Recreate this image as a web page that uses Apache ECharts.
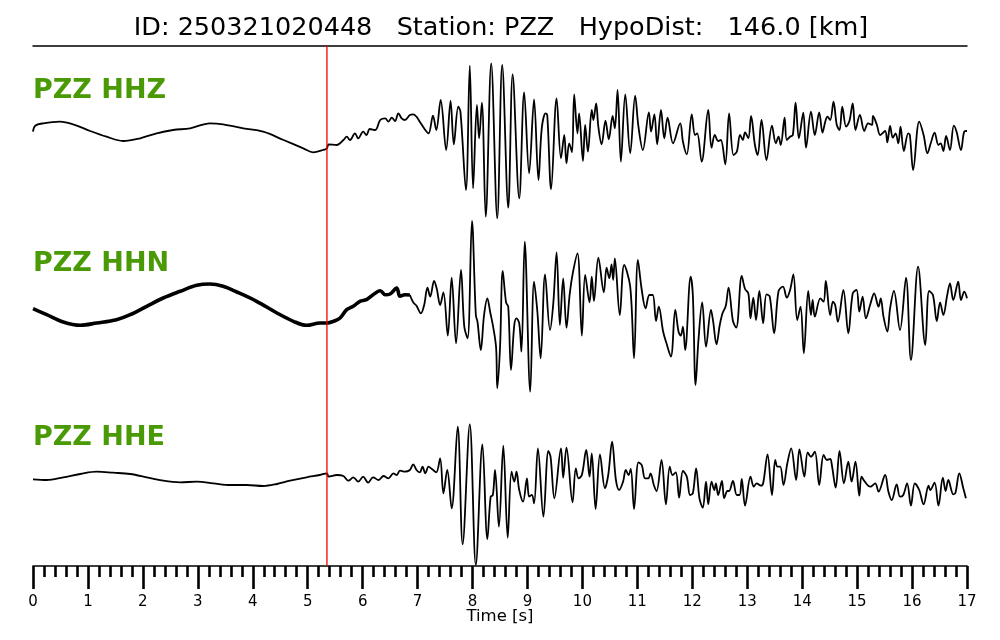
<!DOCTYPE html>
<html>
<head>
<meta charset="utf-8">
<script src="https://cdn.jsdelivr.net/npm/echarts@6/dist/echarts.min.js"></script>
<style>
html,body{margin:0;padding:0;background:#fff;}
#chart{width:1000px;height:640px;}
</style>
</head>
<body>
<div id="chart"></div>
<script>
// ---- data (time [s], amplitude [arbitrary units]) ----
const titleText = 'ID: 250321020448   Station: PZZ   HypoDist:   146.0 [km]';
const traceNames = ['PZZ HHZ', 'PZZ HHN', 'PZZ HHE'];
const pickTime = 5.35;
const timeTicks = [0,1,2,3,4,5,6,7,8,9,10,11,12,13,14,15,16,17];

const hhz = [
[0.00,-3.7],[0.04,2.3],[0.19,4.7],[0.49,6.3],[0.73,3.7],[1.04,-3.0],[1.34,-8.7],[1.64,-13.0],[1.95,-10.3],[2.25,-5.3],
[2.55,-2.0],[2.86,-0.3],[3.22,4.7],[3.46,3.7],[3.83,-0.3],[4.19,-3.7],[4.56,-12.0],[4.92,-20.3],[5.10,-24.3],[5.28,-22.0],
[5.35,-20.3],[5.38,-16.3],[5.53,-17.0],[5.65,-12.0],[5.71,-8.7],[5.77,-12.0],[5.86,-5.3],[5.92,-10.3],[6.01,-3.7],[6.07,-7.0],
[6.13,-1.0],[6.23,-2.0],[6.32,8.0],[6.41,9.7],[6.47,6.3],[6.53,10.3],[6.59,7.0],[6.65,14.7],[6.71,9.7],[6.77,8.0],
[6.86,13.0],[6.92,13.7],[6.98,11.3],[7.04,6.3],[7.14,-2.0],[7.20,-5.3],[7.28,12.3],[7.34,-2.0],[7.42,28.0],[7.52,-22.0],
[7.60,27.0],[7.66,-16.3],[7.74,21.3],[7.78,16.3],[7.88,-62.0],[7.95,62.3],[8.01,-60.3],[8.08,23.0],[8.12,-10.3],[8.17,25.3],
[8.24,-88.7],[8.34,64.7],[8.45,-90.3],[8.54,63.0],[8.65,-79.7],[8.73,53.7],[8.85,-70.3],[8.94,35.7],[9.03,-45.3],[9.12,28.7],
[9.20,-52.0],[9.26,-0.3],[9.33,14.7],[9.36,13.0],[9.43,-61.3],[9.53,29.7],[9.61,-30.3],[9.67,-7.0],[9.71,-35.3],[9.76,-15.3],
[9.81,-24.3],[9.85,33.7],[9.91,-5.3],[9.94,14.7],[10.01,-33.0],[10.05,3.0],[10.10,-23.7],[10.17,18.0],[10.20,8.0],[10.25,24.7],
[10.29,1.3],[10.35,-16.3],[10.42,7.3],[10.48,-11.3],[10.55,12.0],[10.59,-0.3],[10.64,38.0],[10.70,-33.7],[10.78,33.7],[10.87,-25.3],
[10.96,32.3],[11.02,1.3],[11.10,-22.0],[11.21,15.7],[11.25,-3.7],[11.31,13.7],[11.36,-16.3],[11.43,18.0],[11.49,-10.3],[11.55,10.3],
[11.65,-15.3],[11.78,4.7],[11.83,-13.7],[11.90,-26.3],[11.99,13.7],[12.05,-7.0],[12.09,-5.3],[12.17,-33.7],[12.29,18.0],[12.35,-19.7],
[12.41,-7.0],[12.47,-13.0],[12.52,-12.0],[12.60,-36.3],[12.67,14.7],[12.75,-27.0],[12.81,-23.7],[12.87,-7.0],[12.92,-12.0],[12.96,-4.3],
[13.02,-10.3],[13.07,12.0],[13.14,-17.0],[13.19,-27.0],[13.26,8.0],[13.35,-32.0],[13.45,2.3],[13.52,-15.3],[13.57,-8.7],[13.61,-17.0],
[13.68,10.3],[13.72,-12.0],[13.78,-8.7],[13.83,-7.0],[13.88,25.3],[13.94,-10.3],[14.02,15.3],[14.07,-19.7],[14.16,16.3],[14.23,-7.0],
[14.31,15.7],[14.37,-4.7],[14.42,6.3],[14.46,11.3],[14.51,8.0],[14.57,26.3],[14.63,3.0],[14.68,-2.0],[14.73,21.3],[14.80,1.3],
[14.86,7.0],[14.92,24.7],[14.97,-2.0],[15.05,13.0],[15.13,-3.0],[15.20,4.7],[15.27,3.0],[15.29,12.0],[15.36,3.0],[15.42,-7.0],
[15.51,-3.0],[15.55,-14.3],[15.60,2.0],[15.65,-9.7],[15.70,-5.3],[15.75,-15.3],[15.79,1.3],[15.85,-23.0],[15.93,-5.3],[15.96,-7.0],
[16.02,-42.0],[16.13,6.3],[16.21,-7.0],[16.28,-25.3],[16.34,-15.3],[16.41,-4.7],[16.48,-17.0],[16.52,-15.3],[16.57,-23.0],[16.62,-8.0],
[16.69,-22.0],[16.76,2.3],[16.81,-3.7],[16.89,-22.0],[16.95,-3.7],[17.00,-3.0]
];

const hhnQuiet = [
[0.00,-8.7],[0.25,-14.7],[0.55,-22.0],[0.86,-25.3],[1.16,-23.0],[1.52,-19.7],[1.77,-14.7],[2.07,-6.3],[2.37,2.0],[2.68,8.7],
[2.98,14.7],[3.22,16.0],[3.46,13.7],[3.71,8.0],[4.07,-1.3],[4.44,-13.0],[4.74,-21.3],[4.98,-25.3],[5.22,-23.0],[5.35,-23.0],
[5.47,-21.3],[5.59,-18.0],[5.71,-9.7],[5.83,-6.3],[5.95,-1.3],[6.07,0.3],[6.19,5.3],[6.32,9.3],[6.41,5.3],[6.50,6.0],
[6.62,12.0],[6.68,3.7],[6.77,5.3],[6.86,5.0]
];

const hhn = [
[6.86,5.0],[6.92,-2.3],[6.98,-5.7],[7.06,-13.3],[7.12,-5.0],[7.18,12.3],[7.23,3.3],[7.30,19.0],[7.35,11.0],[7.41,-5.0],
[7.47,7.7],[7.55,-35.7],[7.62,22.3],[7.70,-43.3],[7.79,30.0],[7.85,-26.7],[7.91,-38.3],[7.99,79.0],[8.06,-15.0],[8.09,-21.7],
[8.15,-50.0],[8.21,-15.0],[8.27,1.7],[8.32,-11.7],[8.38,-28.3],[8.43,-48.3],[8.45,-88.3],[8.50,-48.3],[8.55,29.0],[8.61,-2.3],
[8.65,-6.7],[8.70,-70.0],[8.76,-25.0],[8.80,-18.3],[8.85,-23.3],[8.89,-51.7],[8.95,58.3],[9.05,-91.7],[9.12,18.3],[9.18,-11.7],
[9.24,-58.3],[9.32,25.7],[9.41,-30.0],[9.47,-3.3],[9.53,47.7],[9.59,-25.0],[9.65,21.7],[9.71,-27.7],[9.77,6.7],[9.83,28.3],
[9.91,46.7],[9.99,-35.7],[10.05,25.0],[10.13,-2.3],[10.17,23.3],[10.21,-1.0],[10.29,42.3],[10.39,7.7],[10.44,32.3],[10.49,21.7],
[10.53,35.7],[10.56,20.0],[10.59,41.7],[10.68,-15.0],[10.76,35.0],[10.87,13.3],[10.94,-58.3],[11.01,40.0],[11.08,10.0],[11.15,-8.3],
[11.22,5.0],[11.28,5.0],[11.34,-21.0],[11.39,-6.7],[11.47,-31.7],[11.53,-43.3],[11.61,-56.7],[11.69,-10.0],[11.75,-31.7],[11.79,-35.7],
[11.83,-26.7],[11.87,-50.0],[11.97,23.3],[12.01,5.0],[12.06,-85.0],[12.11,-41.7],[12.18,-2.3],[12.25,-46.7],[12.34,-10.0],[12.38,-21.7],
[12.44,-44.3],[12.50,-25.0],[12.55,-13.3],[12.61,-5.7],[12.66,12.3],[12.74,-21.0],[12.80,-27.7],[12.90,24.0],[12.96,11.0],[13.02,6.7],
[13.06,-18.3],[13.11,2.3],[13.16,-20.0],[13.22,9.0],[13.29,-23.3],[13.35,5.7],[13.41,3.3],[13.49,-33.3],[13.57,9.0],[13.65,13.3],
[13.72,2.3],[13.78,10.0],[13.84,25.7],[13.91,-20.0],[13.97,-6.7],[14.03,-53.3],[14.11,9.0],[14.16,-15.0],[14.19,0.0],[14.23,-16.7],
[14.33,1.7],[14.39,-1.7],[14.43,19.0],[14.51,-15.0],[14.56,-1.7],[14.60,-5.0],[14.65,-21.7],[14.75,10.0],[14.84,-33.3],[14.92,6.7],
[14.99,10.0],[15.04,-11.7],[15.10,3.3],[15.16,-18.3],[15.24,-4.3],[15.31,6.7],[15.39,-6.7],[15.43,1.7],[15.48,-16.7],[15.55,-31.7],
[15.60,-8.3],[15.67,9.0],[15.78,-30.0],[15.89,22.3],[15.98,-60.0],[16.11,33.3],[16.24,-45.0],[16.31,9.0],[16.38,5.0],[16.45,-21.0],
[16.51,-2.3],[16.57,-15.0],[16.64,5.0],[16.69,16.7],[16.75,0.0],[16.84,18.3],[16.89,0.0],[16.95,8.3],[17.00,1.7]
];

const hhe = [
[0.00,-1.3],[0.25,-2.0],[0.55,0.7],[0.86,4.0],[1.16,6.3],[1.46,5.3],[1.77,4.0],[2.07,0.7],[2.37,-2.7],[2.68,-4.3],
[2.98,-3.7],[3.28,-5.3],[3.59,-7.0],[3.89,-7.0],[4.19,-8.0],[4.44,-6.0],[4.68,-2.7],[4.98,0.7],[5.22,3.0],[5.35,4.7],
[5.38,1.3],[5.53,3.0],[5.65,2.0],[5.74,-2.7],[5.83,0.7],[5.92,-3.7],[6.01,1.3],[6.10,-4.7],[6.19,0.7],[6.29,-2.0],
[6.38,2.0],[6.47,-0.3],[6.56,4.7],[6.62,3.0],[6.68,7.3],[6.77,6.3],[6.86,8.0],[6.92,13.7],[6.98,8.0],[7.04,5.7],
[7.09,11.3],[7.14,4.7],[7.20,11.3],[7.26,9.0],[7.34,5.7],[7.41,19.7],[7.47,-15.3],[7.54,8.0],[7.62,-30.3],[7.73,51.3],
[7.82,-66.3],[7.95,53.7],[8.06,-87.0],[8.18,33.7],[8.27,-61.0],[8.33,-18.7],[8.37,-17.0],[8.41,8.0],[8.48,-48.7],[8.56,32.3],
[8.64,-59.7],[8.71,6.3],[8.76,-3.7],[8.80,6.3],[8.85,-12.0],[8.92,-23.7],[8.99,-0.3],[9.03,-18.7],[9.08,-17.0],[9.12,-25.3],
[9.19,29.7],[9.29,-38.7],[9.38,27.0],[9.42,21.3],[9.49,-20.3],[9.61,29.7],[9.65,0.3],[9.71,30.3],[9.82,-24.3],[9.88,9.7],
[9.93,-0.3],[9.99,3.0],[10.07,28.0],[10.13,1.3],[10.17,24.7],[10.24,-31.0],[10.32,23.7],[10.41,-10.3],[10.47,3.0],[10.54,36.3],
[10.61,-2.0],[10.67,-12.0],[10.74,-3.7],[10.79,8.0],[10.84,3.0],[10.88,9.0],[10.94,-31.0],[11.02,15.7],[11.08,13.0],[11.14,-0.3],
[11.20,-0.3],[11.24,4.7],[11.30,-7.0],[11.35,-13.0],[11.44,18.0],[11.52,-26.3],[11.59,11.3],[11.64,3.0],[11.70,5.7],[11.76,-19.7],
[11.83,7.0],[11.90,1.3],[11.96,-17.0],[12.01,-15.3],[12.07,9.7],[12.13,-20.3],[12.19,-29.7],[12.25,-3.7],[12.29,-26.3],[12.35,-3.7],
[12.40,-12.0],[12.43,-5.3],[12.47,-17.0],[12.54,-3.0],[12.58,-20.3],[12.64,-13.0],[12.67,-13.0],[12.74,-3.0],[12.81,-17.0],[12.86,-17.0],
[12.90,-1.0],[12.96,-27.7],[13.06,1.3],[13.12,-8.7],[13.17,-5.3],[13.25,-7.7],[13.29,-5.3],[13.37,23.7],[13.45,-17.0],[13.51,18.0],
[13.55,11.3],[13.60,11.3],[13.66,-7.0],[13.73,14.7],[13.80,29.7],[13.89,-2.0],[13.95,28.7],[14.04,1.3],[14.10,25.7],[14.16,21.3],
[14.23,26.3],[14.31,-7.0],[14.39,23.0],[14.45,18.0],[14.51,19.0],[14.54,13.0],[14.61,-9.7],[14.68,27.0],[14.76,-5.3],[14.84,16.3],
[14.90,-3.7],[14.97,16.3],[15.04,-17.7],[15.08,1.3],[15.14,-3.7],[15.24,-8.7],[15.33,-5.3],[15.39,-13.7],[15.51,3.0],[15.57,-13.7],
[15.63,-22.0],[15.72,-6.3],[15.78,-18.7],[15.84,-17.0],[15.91,-5.3],[15.98,-27.7],[16.05,-5.3],[16.13,-12.0],[16.21,-26.3],[16.30,-7.7],
[16.33,-12.0],[16.41,-4.7],[16.48,-27.7],[16.56,0.3],[16.61,-13.0],[16.66,-2.0],[16.75,-16.3],[16.79,-14.7],[16.86,4.7],[16.93,-9.7],
[16.98,-20.3]
];

// ---- layout (vertical trace offsets on the hidden y axis) ----
const offsets = {hhz: 438, hhn: 266, hhe: 88};
const yRange = [0, 520];
const shift = (arr, off) => arr.map(p => [p[0], p[1] + off]);

const chart = echarts.init(document.getElementById('chart'), null, {renderer: 'canvas'});
const font = '"DejaVu Sans", "Liberation Sans", sans-serif';
const lineSeries = (data, width, color, z) => ({
  type: 'line', data: data, showSymbol: false, symbol: 'none', smooth: color ? false : 0.35,
  itemStyle: {color: color || '#000'},
  lineStyle: {color: color || '#000', width: width}, silent: true, z: z || 3
});

chart.setOption({
  animation: false,
  backgroundColor: '#fff',
  grid: {left: 33, right: 33, top: 46, bottom: 74, containLabel: false},
  xAxis: [{
    type: 'value', min: 0, max: 17, interval: 1, position: 'bottom',
    axisLine: {show: true, lineStyle: {color: '#000', width: 1.5}},
    axisTick: {show: true, inside: false, length: 23, lineStyle: {color: '#000', width: 2.6}},
    minorTick: {show: true, splitNumber: 5, length: 11, lineStyle: {color: '#000', width: 2.6}},
    axisLabel: {show: true, margin: 29, fontSize: 15, color: '#000', fontFamily: font,
      formatter: v => timeTicks.indexOf(v) >= 0 ? String(v) : ''},
    splitLine: {show: false}, minorSplitLine: {show: false}
  }, {
    type: 'value', min: 0, max: 17, position: 'top',
    axisLine: {show: true, onZero: false, lineStyle: {color: '#000', width: 1.5}},
    axisTick: {show: false}, axisLabel: {show: false}, splitLine: {show: false}
  }],
  yAxis: {type: 'value', min: yRange[0], max: yRange[1], show: false, splitLine: {show: false}},
  series: [
    lineSeries(shift(hhz, offsets.hhz), 1.8),
    lineSeries(shift(hhnQuiet, offsets.hhn), 3.6),
    lineSeries(shift(hhn, offsets.hhn), 1.8),
    lineSeries(shift(hhe, offsets.hhe), 1.8),
    lineSeries([[pickTime, yRange[0]], [pickTime, yRange[1]]], 1.3, '#f00000', 4)
  ],
  graphic: [
    {type: 'text', x: 501, y: 28, style: {text: titleText, fontSize: 25.5, fontFamily: font, fill: '#000', align: 'center', verticalAlign: 'middle'}},
    {type: 'text', x: 33, y: 91, style: {text: traceNames[0], fontSize: 27, fontWeight: 'bold', fontFamily: font, fill: '#4a9a06', align: 'left', verticalAlign: 'middle'}},
    {type: 'text', x: 33, y: 264, style: {text: traceNames[1], fontSize: 27, fontWeight: 'bold', fontFamily: font, fill: '#4a9a06', align: 'left', verticalAlign: 'middle'}},
    {type: 'text', x: 33, y: 438, style: {text: traceNames[2], fontSize: 27, fontWeight: 'bold', fontFamily: font, fill: '#4a9a06', align: 'left', verticalAlign: 'middle'}},
    {type: 'text', x: 500, y: 617, style: {text: 'Time [s]', fontSize: 16.5, fontFamily: font, fill: '#000', align: 'center', verticalAlign: 'middle'}}
  ]
});
</script>
</body>
</html>
